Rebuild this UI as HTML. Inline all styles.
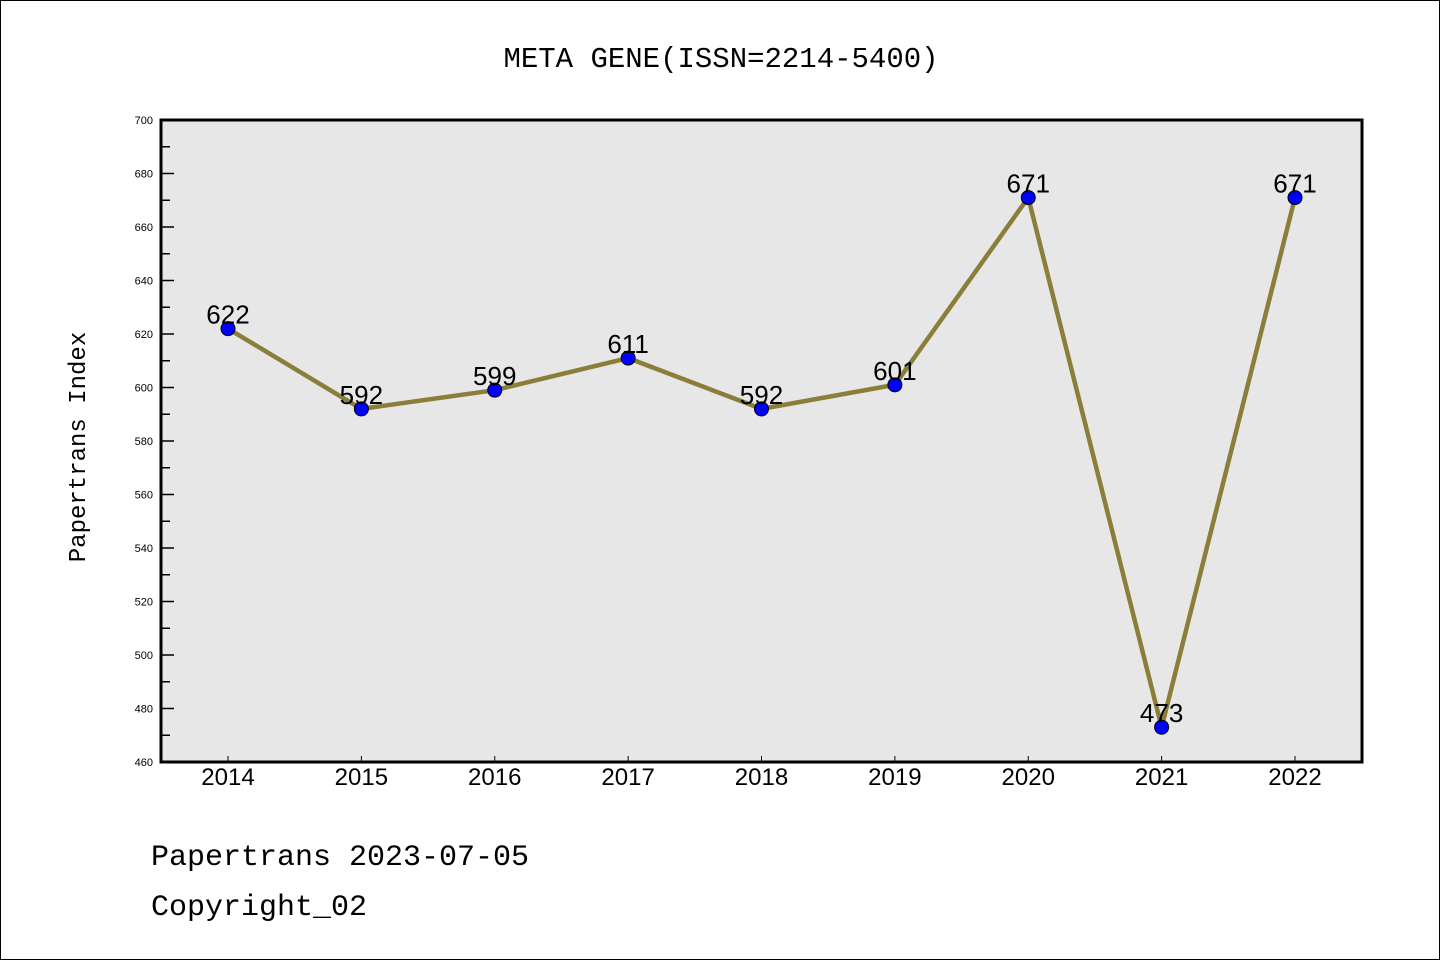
<!DOCTYPE html>
<html><head><meta charset="utf-8"><style>
body{margin:0;background:#fff}
#wrap{position:relative;width:1440px;height:960px;box-sizing:border-box;border:1px solid #000;overflow:hidden}
text{font-family:"Liberation Sans","DejaVu Sans",sans-serif}
.mono{font-family:"Liberation Mono","DejaVu Sans Mono",monospace}
</style></head><body>
<div id="wrap">
<svg id="chart" width="1440" height="960">
<text x="720" y="66" text-anchor="middle" font-size="29" class="mono">META GENE(ISSN=2214-5400)</text>
<rect x="160" y="119" width="1201" height="642" fill="#e7e7e7"/>
<g id="axes"></g>
<g id="series"></g>
<rect x="160" y="119" width="1201" height="642" fill="none" stroke="#000" stroke-width="3"/>
<text transform="translate(84,446) rotate(-90)" text-anchor="middle" font-size="24" class="mono">Papertrans Index</text>
<text x="150" y="864" font-size="30" class="mono">Papertrans 2023-07-05</text>
<text x="150" y="914" font-size="30" class="mono">Copyright_02</text>
</svg></div>
<script>
const years=["2014","2015","2016","2017","2018","2019","2020","2021","2022"];
const values=[622,592,599,611,592,601,671,473,671];
const yTicks=[460,480,500,520,540,560,580,600,620,640,660,680,700];
const yMin=460,yMax=700;
const L=160,R=1361,T=119,B=761;
const NS="http://www.w3.org/2000/svg";
function X(i){return 227+i*(1294-227)/(years.length-1);}
function Y(v){return B-(v-yMin)/(yMax-yMin)*(B-T);}
function mk(tag,attrs,parent){const e=document.createElementNS(NS,tag);for(const k in attrs)e.setAttribute(k,attrs[k]);parent.appendChild(e);return e;}
const axes=document.getElementById('axes'),ser=document.getElementById('series');
yTicks.forEach((v,i)=>{
  const t=mk('text',{x:L-8,y:Y(v)+4,'text-anchor':'end','font-size':11},axes);
  t.textContent=v;
  
  
  const l=mk('line',{x1:L,x2:L+13,y1:Y(v),y2:Y(v),stroke:'#000','stroke-width':1.5},axes);
  
  
  if(i<yTicks.length-1){
    const m=(v+yTicks[i+1])/2;
    const ml=mk('line',{x1:L,x2:L+9,y1:Y(m),y2:Y(m),stroke:'#000','stroke-width':1.5},axes);
    
    
  }
});
years.forEach((y,i)=>{
  const t=mk('text',{x:X(i),y:784,'text-anchor':'middle','font-size':24},axes);
  t.textContent=y;
  
  
  const l=mk('line',{x1:X(i),x2:X(i),y1:B,y2:B-6,stroke:'#000','stroke-width':1},axes);
  
  
});
const pl=mk('polyline',{points:values.map((v,i)=>X(i)+','+Y(v)).join(' '),fill:'none',stroke:'#8b7d3a','stroke-width':4.5,'stroke-linejoin':'round'},ser);


values.forEach((v,i)=>{
  const c=mk('circle',{cx:X(i),cy:Y(v),r:7,fill:'#0000ff',stroke:'#000','stroke-width':1},ser);
  
  
  const t=mk('text',{x:X(i),y:Y(v)-5,'text-anchor':'middle','font-size':26},ser);
  t.textContent=v;
  
  
});
</script>
</body></html>
